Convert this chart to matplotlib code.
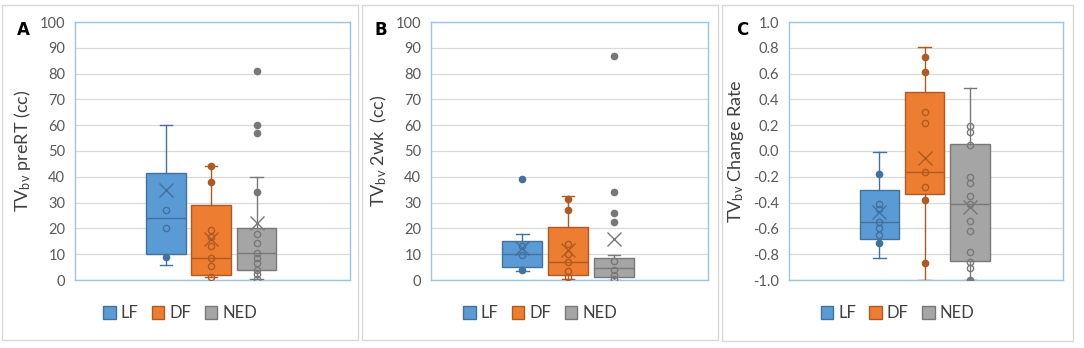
import matplotlib
matplotlib.use("Agg")
import matplotlib.pyplot as plt
from matplotlib.patches import Rectangle, Patch

plt.rcParams['font.family'] = ['Lato', 'DejaVu Sans']
plt.rcParams['mathtext.fontset'] = 'custom'
plt.rcParams['mathtext.rm'] = 'Lato'
plt.rcParams['mathtext.it'] = 'Lato'

groups = ["LF", "DF", "NED"]
fills = ["#5B9BD5", "#ED7D31", "#A5A5A5"]
edges = ["#41719C", "#AE5A21", "#787878"]

# panel A: TVbv preRT (cc)
a_lo = [6, 1, 0.5]
a_q1 = [10, 2, 4]
a_med = [24, 8.5, 10.5]
a_q3 = [41.5, 29, 20]
a_hi = [60, 44, 40]
a_mean = [35, 16, 22]
a_pts = [[27, 20], [19.5, 16.5, 13, 8.5, 5.5, 1], [18, 14.5, 10.5, 8.5, 6.5, 4, 2.5, 0.5]]
a_dots = [[9], [44, 38], [81, 60, 57, 34]]

# panel B: TVbv 2wk (cc)
b_lo = [3.5, 0.5, 0]
b_q1 = [5, 2, 1]
b_med = [10, 7, 4.5]
b_q3 = [15, 20.5, 8.5]
b_hi = [18, 32.5, 9.5]
b_mean = [12.5, 11.5, 16]
b_pts = [[13, 9.5], [14, 10, 7, 3.5, 1], [7.5, 4, 2, 0.5]]
b_dots = [[39, 4], [31.5, 27], [87, 34, 26, 22.5]]

# panel C: TVbv change rate
c_lo = [-0.83, -1.0, -1.0]
c_q1 = [-0.68, -0.335, -0.855]
c_med = [-0.55, -0.16, -0.41]
c_q3 = [-0.30, 0.455, 0.055]
c_hi = [-0.01, 0.81, 0.485]
c_mean = [-0.47, -0.055, -0.435]
c_pts = [[-0.41, -0.45, -0.55, -0.6, -0.65], [0.30, 0.22, -0.16, -0.28],
         [0.19, 0.15, 0.05, -0.2, -0.25, -0.35, -0.41, -0.54, -0.62, -0.78, -0.86, -0.91]]
c_dots = [[-0.18, -0.71], [0.73, 0.61, -0.38, -0.87], [-1.0]]

panels = [
    ("A", r"TV$_{\mathrm{bv}}$ preRT (cc)", a_lo, a_q1, a_med, a_q3, a_hi, a_mean, a_pts, a_dots,
     (0, 100), range(0, 101, 10), "%d"),
    ("B", r"TV$_{\mathrm{bv}}$ 2wk  (cc)", b_lo, b_q1, b_med, b_q3, b_hi, b_mean, b_pts, b_dots,
     (0, 100), range(0, 101, 10), "%d"),
    ("C", r"TV$_{\mathrm{bv}}$ Change Rate", c_lo, c_q1, c_med, c_q3, c_hi, c_mean, c_pts, c_dots,
     (-1, 1), [x / 10 for x in range(-10, 11, 2)], "%.1f"),
]

W, H = 1084, 348
fig = plt.figure(figsize=(W / 100, H / 100), dpi=100)

# panel frames (pixels: left, top, right, bottom)
frames = [(2, 5, 358, 340), (362, 5, 718, 340), (722, 5, 1073, 341)]
# plot areas (pixels)
areas = [(75, 22, 350, 280), (431, 22, 708, 280), (789, 22, 1063, 280)]
letters = [(17, 30), (375, 30), (736, 30)]

positions = [0.33, 0.495, 0.66]

for i, (letter, ylabel, lo, q1, med, q3, hi, mean, pts, dots, ylim, ticks, fmt) in enumerate(panels):
    fl, ft, fr, fb = frames[i]
    fig.patches.append(Rectangle((fl / W, 1 - fb / H), (fr - fl) / W, (fb - ft) / H,
                                 transform=fig.transFigure, fill=False,
                                 edgecolor="#D9D9D9", linewidth=1.0))
    l, t, r, b = areas[i]
    ax = fig.add_axes([l / W, 1 - b / H, (r - l) / W, (b - t) / H])

    for k in range(3):
        st = dict(whislo=lo[k], q1=q1[k], med=med[k], q3=q3[k], whishi=hi[k],
                  mean=mean[k], fliers=[])
        ax.bxp([st], positions=[positions[k]], widths=0.145, capwidths=0.045,
               patch_artist=True, showmeans=True, showfliers=False,
               boxprops=dict(facecolor=fills[k], edgecolor=edges[k], linewidth=1.0),
               medianprops=dict(color=edges[k], linewidth=1.0),
               whiskerprops=dict(color=edges[k], linewidth=1.0),
               capprops=dict(color=edges[k], linewidth=1.0),
               meanprops=dict(marker="x", markersize=10, markeredgecolor=edges[k],
                              markeredgewidth=1.0),
               zorder=3)
        ax.plot([positions[k]] * len(pts[k]), pts[k], "o", markersize=4.5,
                markerfacecolor="none", markeredgecolor=edges[k], markeredgewidth=1.0,
                zorder=4)
        ax.plot([positions[k]] * len(dots[k]), dots[k], "o", markersize=4.5,
                markerfacecolor=edges[k], markeredgecolor=edges[k], zorder=4)

    ax.set_xlim(0, 1)
    ax.set_ylim(*ylim)
    ax.set_yticks(list(ticks))
    ax.set_yticklabels([fmt % v for v in ticks])
    ax.set_xticks([])
    ax.yaxis.grid(True, color="#D9D9D9", linewidth=0.9)
    ax.set_axisbelow(True)
    ax.tick_params(axis="y", length=0, pad=7, labelsize=10.5, labelcolor="#595959")
    for s in ax.spines.values():
        s.set_color("#9DC3E6")
        s.set_linewidth(1.0)
    ax.set_ylabel(ylabel, fontsize=13, color="#404040", labelpad=5)

    handles = [Patch(facecolor=fills[k], edgecolor=edges[k], label=groups[k]) for k in range(3)]
    cx = ((fl + fr) / 2 - l) / (r - l)
    ax.legend(handles=handles, loc="center", bbox_to_anchor=(cx, -0.128), ncol=3,
              frameon=False, fontsize=12, handlelength=0.75, handleheight=0.85,
              handletextpad=0.3, columnspacing=0.8, labelcolor="#404040")

    lx, ly = letters[i]
    fig.text(lx / W, 1 - ly / H, letter, fontsize=12, fontweight="bold",
             family=["DejaVu Sans"], va="center", ha="left")

fig.savefig("out.png", dpi=100)
